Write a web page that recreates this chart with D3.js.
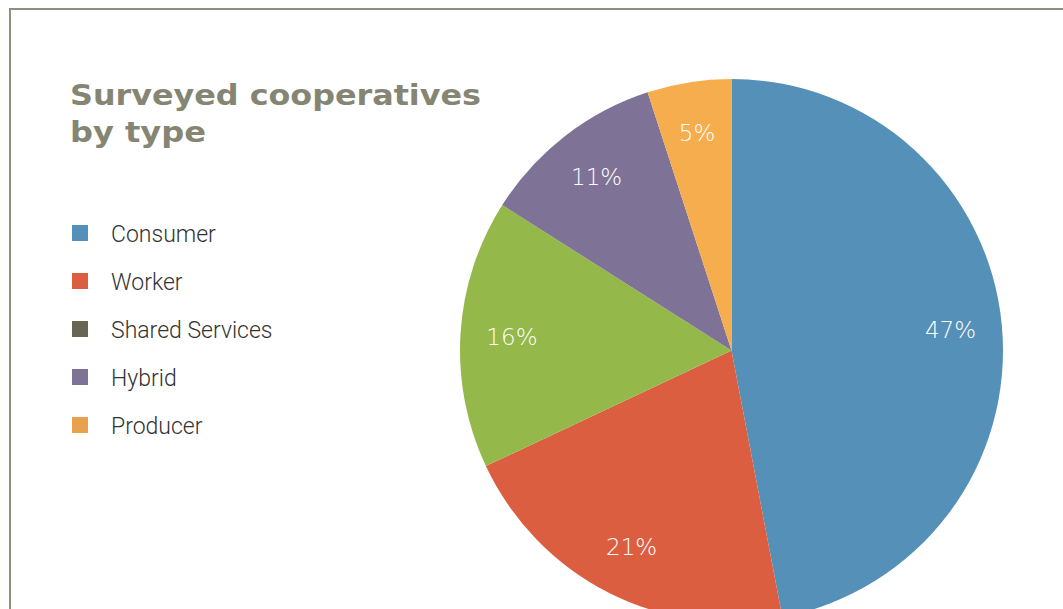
<!DOCTYPE html>
<html>
<head>
<meta charset="utf-8">
<script src="https://cdn.jsdelivr.net/npm/d3@7"></script>
<style>
  html, body { margin: 0; padding: 0; background: #ffffff; }
  svg { display: block; }
</style>
</head>
<body>
<svg id="chart" width="1063" height="609"></svg>
<script>
// Cooperative types, slice values (percent) and colours
const sliceNames = ["Consumer", "Worker", "Shared Services", "Hybrid", "Producer"];
const sliceValues = [47, 21, 16, 11, 5];
const sliceColors = ["#5590b8", "#db5e41", "#95b84a", "#7e7396", "#f5ad4d"];

// Legend entries and swatch colours
const legendLabels = ["Consumer", "Worker", "Shared Services", "Hybrid", "Producer"];
const legendColors = ["#5590b8", "#db5e41", "#676655", "#7e7396", "#e8a24d"];

const titleLines = ["Surveyed cooperatives", "by type"];
const titleWidths = [411, 136];

const svg = d3.select("#chart");

// Frame
svg.append("path")
  .attr("d", "M10,609 L10,9 L1063,9")
  .attr("fill", "none")
  .attr("stroke", "#8f8f80")
  .attr("stroke-width", 2);

// Title (wide bold face, stretched horizontally)
const title = svg.append("text")
  .attr("x", 70)
  .attr("y", 105)
  .attr("fill", "#858573")
  .style("font-family", "'DejaVu Sans', sans-serif")
  .style("font-weight", "bold")
  .style("font-size", "29px");
title.selectAll("tspan")
  .data(titleLines)
  .join("tspan")
  .attr("x", 70)
  .attr("dy", (d, i) => i === 0 ? 0 : 37)
  .attr("textLength", (d, i) => titleWidths[i])
  .attr("lengthAdjust", "spacingAndGlyphs")
  .text(d => d);

// Legend
const legendY = d3.scalePoint()
  .domain(legendLabels)
  .range([233, 425]);

const legend = svg.append("g");
const rows = legend.selectAll("g")
  .data(legendLabels)
  .join("g")
  .attr("transform", d => `translate(0,${legendY(d)})`);
rows.append("rect")
  .attr("x", 72)
  .attr("y", -8)
  .attr("width", 16)
  .attr("height", 16)
  .attr("fill", (d, i) => legendColors[i]);
rows.append("text")
  .attr("x", 111)
  .attr("y", 9)
  .attr("fill", "#333333")
  .style("font-family", "Roboto, sans-serif")
  .style("font-weight", 300)
  .style("font-size", "23px")
  .text(d => d);

// Pie
const cx = 731.5, cy = 350.5, radius = 271.5;
const pie = d3.pie().sort(null).value(d => d.value);
const arcs = pie(sliceNames.map((n, i) => ({ name: n, value: sliceValues[i], color: sliceColors[i] })));
const arc = d3.arc().innerRadius(0).outerRadius(radius);
const labelArc = d3.arc().innerRadius(220).outerRadius(220);

const pieG = svg.append("g").attr("transform", `translate(${cx},${cy})`);
pieG.selectAll("path")
  .data(arcs)
  .join("path")
  .attr("d", arc)
  .attr("fill", d => d.data.color);

pieG.selectAll("text")
  .data(arcs)
  .join("text")
  .attr("transform", d => `translate(${labelArc.centroid(d)})`)
  .attr("text-anchor", "middle")
  .attr("dy", "0.36em")
  .attr("fill", "#ffffff")
  .style("font-family", "'DejaVu Sans', sans-serif")
  .style("font-weight", 200)
  .style("font-size", "23px")
  .text(d => d.data.value + "%");
</script>
</body>
</html>
